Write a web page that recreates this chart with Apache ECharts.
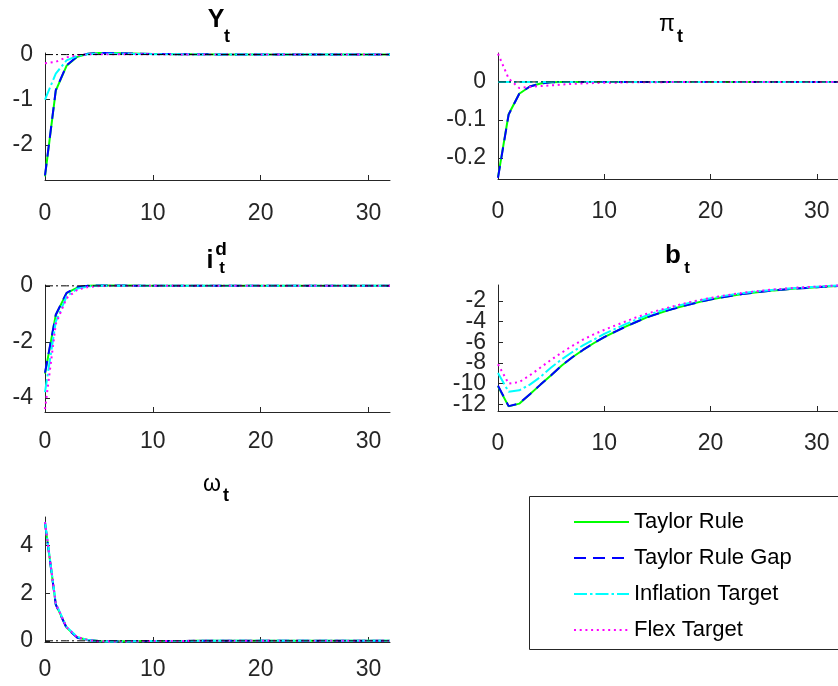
<!DOCTYPE html>
<html>
<head>
<meta charset="utf-8">
<script src="https://cdn.jsdelivr.net/npm/echarts@6/dist/echarts.min.js"></script>
<style>html,body{margin:0;padding:0;background:#fff}#c{width:838px;height:686px}</style>
</head>
<body>
<div id="c"></div>
<script>
// ---- data ----
const periods = [0,1,2,3,4,5,6,7,8,9,10,11,12,13,14,15,16,17,18,19,20,21,22,23,24,25,26,27,28,29,30,31,32];
const seriesNames = ['Taylor Rule','Taylor Rule Gap','Inflation Target','Flex Target'];
const xTicks = [0,10,20,30];

// Y_t
const yTaylor = [-2.70,-0.80,-0.25,-0.05,0.02,0.035,0.035,0.03,0.025,0.02,0.015,0.012,0.01,0.008,0.006,0.005,0.004,0.003,0.003,0.002,0.002,0.002,0.001,0.001,0.001,0.001,0,0,0,0,0,0,0];
const yGap    = [-2.68,-0.79,-0.24,-0.04,0.02,0.035,0.035,0.03,0.025,0.02,0.015,0.012,0.01,0.008,0.006,0.005,0.004,0.003,0.003,0.002,0.002,0.002,0.001,0.001,0.001,0.001,0,0,0,0,0,0,0];
const yInfl   = [-1.00,-0.42,-0.13,-0.03,0.01,0.02,0.02,0.018,0.015,0.012,0.01,0.008,0.006,0.005,0.004,0.003,0.003,0.002,0.002,0.002,0.001,0.001,0.001,0.001,0,0,0,0,0,0,0,0,0];
const yFlex   = [-0.19,-0.16,-0.06,-0.015,0.005,0.01,0.01,0.008,0.007,0.006,0.005,0.004,0.003,0.003,0.002,0.002,0.002,0.001,0.001,0.001,0.001,0,0,0,0,0,0,0,0,0,0,0,0];
const yYTicks = [-2,-1,0];

// pi_t
const piTaylor = [-0.25,-0.085,-0.031,-0.012,-0.004,-0.001,0,0,0,0,0,0,0,0,0,0,0,0,0,0,0,0,0,0,0,0,0,0,0,0,0,0,0];
const piGap    = [-0.252,-0.086,-0.031,-0.012,-0.004,-0.001,0,0,0,0,0,0,0,0,0,0,0,0,0,0,0,0,0,0,0,0,0,0,0,0,0,0,0];
const piInfl   = [0,0,0,0,0,0,0,0,0,0,0,0,0,0,0,0,0,0,0,0,0,0,0,0,0,0,0,0,0,0,0,0,0];
const piFlex   = [0.074,0.009,-0.016,-0.013,-0.011,-0.009,-0.007,-0.005,-0.004,-0.003,-0.002,-0.002,-0.001,-0.001,-0.001,-0.001,-0.0005,0,0,0,0,0,0,0,0,0,0,0,0,0,0,0,0];
const piYTicks = [-0.2,-0.1,0];

// i^d_t
const iTaylor = [-3.13,-1.04,-0.26,-0.06,0.0,0.01,0.012,0.01,0.008,0.006,0.005,0.004,0.003,0.002,0.002,0.001,0.001,0.001,0.001,0,0,0,0,0,0,0,0,0,0,0,0,0,0];
const iGap    = [-3.10,-1.03,-0.25,-0.05,0.005,0.01,0.012,0.01,0.008,0.006,0.005,0.004,0.003,0.002,0.002,0.001,0.001,0.001,0.001,0,0,0,0,0,0,0,0,0,0,0,0,0,0];
const iInfl   = [-3.79,-1.28,-0.38,-0.10,-0.02,0.0,0.005,0.005,0.004,0.003,0.002,0.002,0.001,0.001,0.001,0,0,0,0,0,0,0,0,0,0,0,0,0,0,0,0,0,0];
const iFlex   = [-4.40,-1.36,-0.44,-0.14,-0.04,-0.01,0,0.002,0.002,0.001,0.001,0,0,0,0,0,0,0,0,0,0,0,0,0,0,0,0,0,0,0,0,0,0];
const iYTicks = [-4,-2,0];

// b_t
const bTaylor = [-10.26,-12.2,-11.94,-11.03,-10.1,-9.2,-8.25,-7.45,-6.75,-6.1,-5.5,-5.0,-4.5,-4.05,-3.6,-3.25,-2.92,-2.62,-2.35,-2.1,-1.88,-1.68,-1.5,-1.35,-1.22,-1.1,-0.99,-0.9,-0.82,-0.75,-0.68,-0.62,-0.57];
const bGap    = [-10.2,-12.18,-11.92,-11.02,-10.1,-9.2,-8.25,-7.45,-6.75,-6.1,-5.5,-5.0,-4.5,-4.05,-3.6,-3.25,-2.92,-2.62,-2.35,-2.1,-1.88,-1.68,-1.5,-1.35,-1.22,-1.1,-0.99,-0.9,-0.82,-0.75,-0.68,-0.62,-0.57];
const bInfl   = [-8.97,-10.8,-10.65,-10.1,-9.35,-8.45,-7.65,-6.95,-6.3,-5.75,-5.2,-4.72,-4.25,-3.82,-3.4,-3.06,-2.75,-2.46,-2.2,-1.97,-1.76,-1.57,-1.4,-1.26,-1.13,-1.02,-0.92,-0.84,-0.76,-0.7,-0.64,-0.58,-0.53];
const bFlex   = [-8.13,-10.0,-9.85,-9.2,-8.45,-7.7,-7.0,-6.35,-5.75,-5.25,-4.8,-4.4,-4.0,-3.6,-3.25,-2.95,-2.66,-2.39,-2.14,-1.92,-1.72,-1.54,-1.38,-1.24,-1.11,-1.0,-0.9,-0.82,-0.74,-0.68,-0.62,-0.56,-0.51];
const bYTicks = [-12,-10,-8,-6,-4,-2];
const bYLabelsA = [-12,-8,-4];
const bYLabelsB = [-10,-6,-2];

// omega_t
const wTaylor = [4.95,1.53,0.56,0.14,0.03,-0.01,-0.02,-0.02,-0.015,-0.01,-0.008,-0.006,-0.004,-0.003,-0.002,-0.002,-0.001,-0.001,-0.001,0,0,0,0,0,0,0,0,0,0,0,0,0,0];
const wGap    = [4.95,1.52,0.54,0.13,0.02,-0.01,-0.02,-0.02,-0.015,-0.01,-0.008,-0.006,-0.004,-0.003,-0.002,-0.002,-0.001,-0.001,-0.001,0,0,0,0,0,0,0,0,0,0,0,0,0,0];
const wInfl   = [5.00,1.58,0.58,0.16,0.03,-0.02,-0.03,-0.03,-0.02,-0.015,-0.01,-0.008,-0.006,-0.004,-0.003,-0.002,-0.002,-0.001,-0.001,0,0,0,0,0,0,0,0,0,0,0,0,0,0];
const wFlex   = [4.98,1.56,0.57,0.15,0.03,-0.015,-0.025,-0.025,-0.018,-0.012,-0.009,-0.007,-0.005,-0.003,-0.002,-0.002,-0.001,-0.001,-0.001,0,0,0,0,0,0,0,0,0,0,0,0,0,0];
const wYTicks = [0,2,4];

const zeroLine = [0,0,0,0,0,0,0,0,0,0,0,0,0,0,0,0,0,0,0,0,0,0,0,0,0,0,0,0,0,0,0,0,0];

// ---- layout / style ----
const FONT = '"Liberation Sans", Arial, Helvetica, sans-serif';
const AX = '#262626';
const panels = [
  {grid:{left:45, top:53, width:345, height:127}, yMin:-2.78, yMax:0.035, yTicks:yYTicks, yLabels:yYTicks, data:[yTaylor,yGap,yInfl,yFlex], xm:22},
  {grid:{left:498, top:53, width:347, height:126}, yMin:-0.255, yMax:0.076, yTicks:piYTicks, yLabels:piYTicks, data:[piTaylor,piGap,piInfl,piFlex], xm:21},
  {grid:{left:45, top:285, width:345, height:127}, yMin:-4.5, yMax:0.03, yTicks:iYTicks, yLabels:iYTicks, data:[iTaylor,iGap,iInfl,iFlex], xm:18},
  {grid:{left:498, top:285, width:347, height:126}, yMin:-12.65, yMax:-0.47, yTicks:bYTicks, yLabels:bYLabelsA, extraLabels:bYLabelsB, data:[bTaylor,bGap,bInfl,bFlex], xm:21},
  {grid:{left:45, top:517, width:345, height:125}, yMin:-0.05, yMax:5.2, yTicks:wYTicks, yLabels:wYTicks, data:[wTaylor,wGap,wInfl,wFlex], xm:16}
];
const lineStyles = [
  {color:'#00ff00', width:2, type:'solid'},
  {color:'#0000ff', width:2, type:[12,7]},
  {color:'#00ffff', width:2, type:[13,3,2.5,3]},
  {color:'#ff00ff', width:2, type:[2,3.7]}
];

function yLabelStyle(vals) {
  return {customValues:vals, margin:12, fontSize:23, color:AX, fontFamily:FONT, showMinLabel:true, showMaxLabel:true, hideOverlap:false};
}

const grids = [], xAxes = [], yAxes = [], series = [], extraY = [];
panels.forEach((p, i) => {
  grids.push(Object.assign({containLabel:false}, p.grid));
  xAxes.push({
    type:'value', gridIndex:i, min:0, max:32,
    axisLine:{show:true, onZero:false, lineStyle:{color:AX, width:1}},
    axisTick:{show:true, inside:true, length:5, customValues:xTicks, lineStyle:{color:AX}},
    axisLabel:{customValues:xTicks, margin:p.xm, fontSize:23, color:AX, fontFamily:FONT, showMinLabel:true, showMaxLabel:true},
    splitLine:{show:false}
  });
  yAxes.push({
    type:'value', gridIndex:i, min:p.yMin, max:p.yMax,
    axisLine:{show:true, onZero:false, lineStyle:{color:AX, width:1}},
    axisTick:{show:true, inside:true, length:5, customValues:p.yTicks, lineStyle:{color:AX}},
    axisLabel:yLabelStyle(p.yLabels),
    splitLine:{show:false}
  });
  if (p.extraLabels) {
    extraY.push({
      type:'value', gridIndex:i, position:'left', offset:0, min:p.yMin, max:p.yMax,
      axisLine:{show:false, onZero:false}, axisTick:{show:false},
      axisLabel:yLabelStyle(p.extraLabels), splitLine:{show:false}
    });
  }
  p.data.forEach((arr, s) => {
    series.push({
      type:'line', name:seriesNames[s], xAxisIndex:i, yAxisIndex:i, symbol:'none', showSymbol:false,
      data: periods.map((t, k) => [t, arr[k]]),
      lineStyle: lineStyles[s], itemStyle:{color:lineStyles[s].color}, z:2+s
    });
  });
  series.push({
    type:'line', name:'zero', xAxisIndex:i, yAxisIndex:i, symbol:'none', silent:true,
    data: periods.map((t, k) => [t, zeroLine[k]]),
    lineStyle:{color:'#000', width:1, type:[8,3,2,3]}, z:8
  });
});

function txt(text, x, y, size, bold) {
  return {type:'text', z:100, style:{text:text, x:x, y:y, fill:'#000', align:'center', verticalAlign:'middle',
    font:(bold ? 'bold ' : '') + size + 'px ' + FONT}};
}

const graphics = [
  {type:'rect', z:0, shape:{x:529.5, y:496.5, width:400, height:153}, style:{fill:'#fff', stroke:AX, lineWidth:1}},
  txt('Y', 216, 20, 25, true), txt('t', 227, 37, 18, true),
  txt('π', 667, 25, 23, false), txt('t', 680, 37, 18, true),
  txt('i', 210, 261, 25, true), txt('d', 221, 250, 19, true), txt('t', 222, 268, 17, true),
  txt('b', 673, 256, 26, true), txt('t', 687, 268, 17, true),
  txt('ω', 212, 485, 23, false), txt('t', 226, 496, 18, true)
];

const chart = echarts.init(document.getElementById('c'), null, {renderer:'canvas'});
chart.setOption({
  animation:false,
  backgroundColor:'#fff',
  grid:grids, xAxis:xAxes, yAxis:yAxes.concat(extraY), series:series,
  legend:{
    data:seriesNames, orient:'vertical', left:568, top:506, z:10,
    itemWidth:55, itemHeight:21, itemGap:14, selectedMode:false,
    itemStyle:{opacity:0},
    textStyle:{fontSize:22, color:'#000', fontFamily:FONT}
  },
  graphic:graphics
});
</script>
</body>
</html>
